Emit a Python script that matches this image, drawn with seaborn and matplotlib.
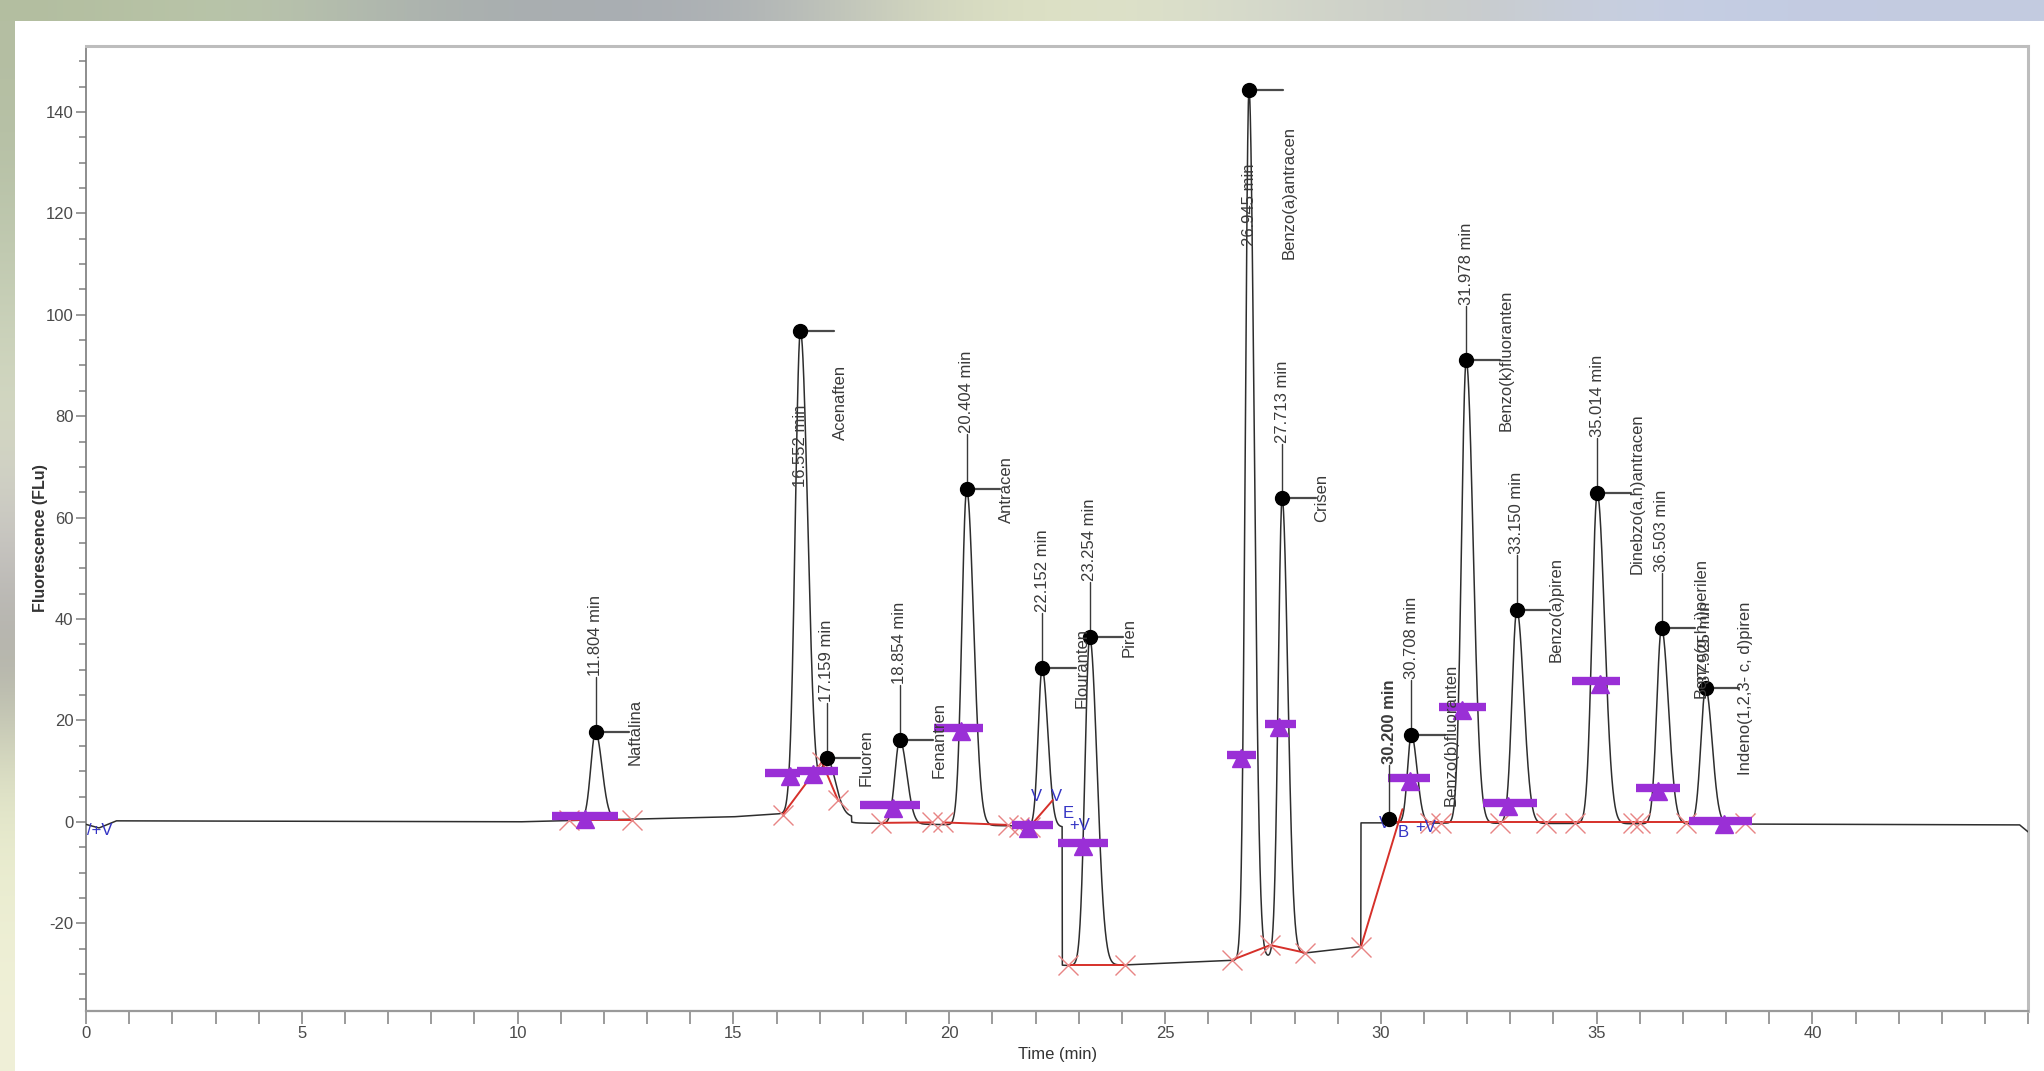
import numpy as np
import pandas as pd
import matplotlib
matplotlib.use("Agg")
import matplotlib.pyplot as plt
from matplotlib.patches import Rectangle
from matplotlib.ticker import MultipleLocator
import seaborn as sns

# ---- data ----
peak_rt = [11.804, 16.552, 17.159, 18.854, 20.404, 22.152, 23.254, 26.945,
           27.713, 30.200, 30.708, 31.978, 33.150, 35.014, 36.503, 37.525]
peak_top = [17.7, 96.8, 12.6, 16.2, 65.6, 30.3, 36.4, 144.4,
            63.8, 0.5, 17.2, 91.0, 41.8, 64.8, 38.2, 26.4]
peak_sd_left = [0.11, 0.12, 0.13, 0.11, 0.11, 0.09, 0.11, 0.085,
                0.09, 0.04, 0.09, 0.11, 0.11, 0.12, 0.11, 0.11]
peak_sd_right = [0.15, 0.17, 0.20, 0.16, 0.16, 0.13, 0.17, 0.12,
                 0.13, 0.04, 0.13, 0.16, 0.16, 0.17, 0.16, 0.15]
peak_name = ["Naftalina", "Acenaften", "Fluoren", "Fenantren", "Antracen",
             "Flouranten", "Piren", "Benzo(a)antracen", "Crisen", "",
             "Benzo(b)fluoranten", "Benzo(k)fluoranten", "Benzo(a)piren",
             "Dinebzo(a,h)antracen", "Benzo(g,h,i)perilen",
             "Indeno(1,2,3- c, d)piren"]

# detector baseline (with the two signal offsets)
bl_t = [0.0, 0.3, 0.7, 10.0, 15.0, 16.1, 17.74, 17.74, 21.5, 22.62, 22.62,
        24.1, 26.6, 28.3, 29.54, 29.54, 44.8, 45.0]
bl_y = [-0.5, -1.2, 0.2, 0.0, 1.0, 1.6, 1.0, -0.2, -0.8, -1.0, -28.3,
        -28.2, -27.3, -25.8, -24.6, -0.2, -0.6, -2.0]

# integration baselines (red) and their cut points
red_t = [[11.19, 12.64], [16.14, 17.05, 17.42], [18.41, 19.60],
         [19.85, 21.35], [21.61, 21.86, 22.40], [22.74, 24.08],
         [26.56, 27.44, 28.24], [29.54, 30.50], [30.30, 38.43]]
red_y = [[0.4, 0.4], [1.4, 11.8, 4.3], [-0.2, -0.1],
         [-0.1, -0.6], [-1.0, -1.0, 4.3], [-28.2, -28.2],
         [-27.2, -24.3, -25.8], [-24.6, 2.5], [0.0, 0.0]]
cut_t = [11.19, 12.64, 16.14, 17.05, 17.42, 18.41, 19.60, 19.85, 21.35,
         21.61, 21.86, 22.74, 24.08, 26.56, 27.44, 28.24, 29.54, 31.13,
         31.39, 32.75, 33.82, 34.49, 35.84, 36.00, 37.08, 38.43]
cut_y = [0.4, 0.4, 1.4, 11.8, 4.3, -0.2, -0.1, -0.1, -0.6,
         -1.0, -1.0, -28.2, -28.2, -27.2, -24.3, -25.8, -24.6, -0.2,
         -0.2, -0.2, -0.2, -0.2, -0.2, -0.2, -0.2, -0.2]

# purple event marks: centre, level and window
mark_t = [11.55, 16.31, 16.84, 18.69, 20.27, 21.82, 23.11, 26.76, 27.65,
          30.67, 31.87, 32.94, 35.07, 36.41, 37.96]
mark_y = [1.2, 9.7, 10.1, 3.4, 18.5, -0.6, -4.2, 13.2, 19.3,
          8.7, 22.7, 3.7, 27.8, 6.7, 0.2]
mark_lo = [10.80, 15.73, 16.47, 17.93, 19.64, 21.45, 22.53, 26.43, 27.31,
           30.16, 31.34, 32.36, 34.44, 35.90, 37.13]
mark_hi = [12.33, 16.54, 17.42, 19.32, 20.78, 22.40, 23.67, 27.10, 28.03,
           31.13, 32.43, 33.61, 35.53, 36.92, 38.59]

# blue valley/event codes
code_t = [0.02, 21.90, 22.35, 22.62, 22.78, 29.95, 30.40, 30.80]
code_y = [-0.3, 6.5, 6.5, 3.2, 0.8, 1.2, -0.6, 0.3]
code_txt = ["/+V", "V", "V", "E", "+V", "V", "B", "+V"]

# ---- layout of the peak annotations ----
rt_mode = ["above"] * len(peak_rt)
rt_mode[1] = "below"
rt_mode[7] = "below"
rt_mode[15] = "onpeak"
name_dy = [0.0] * len(peak_rt)
name_dy[1] = -14.0
name_dy[7] = -20.3

sns.set_style("ticks")
plt.rcParams["font.family"] = ["Liberation Sans", "DejaVu Sans"]
plt.rcParams["axes.unicode_minus"] = False
narrow = ["Liberation Sans Narrow", "Liberation Sans", "DejaVu Sans"]

fig = plt.figure(figsize=(20.44, 10.71), dpi=100)
fig.patch.set_facecolor("white")

# blurred photo backdrop around the white panel
bg = fig.add_axes([0, 0, 1, 1], zorder=-10)
bg.set_axis_off()
top_cols = np.array([[[179, 190, 160], [188, 200, 172], [170, 176, 174],
                      [168, 173, 178], [174, 178, 182], [216, 220, 192],
                      [224, 228, 200], [212, 216, 204], [200, 202, 198],
                      [200, 208, 228], [194, 203, 226], [196, 204, 224]]]) / 255
left_cols = np.array([[[180, 190, 162]], [[186, 196, 170]], [[200, 208, 184]],
                      [[214, 218, 196]], [[200, 196, 196]], [[170, 170, 162]],
                      [[226, 230, 200]], [[236, 238, 210]], [[240, 240, 216]]]) / 255
bg.imshow(top_cols, extent=(0, 2044, 21, 0), aspect="auto", interpolation="bicubic")
bg.imshow(left_cols, extent=(0, 15, 1071, 21), aspect="auto", interpolation="bicubic")
bg.add_patch(Rectangle((15, 21), 2029, 1050, facecolor="white", edgecolor="none"))
bg.set_xlim(0, 2044)
bg.set_ylim(1071, 0)

ax = fig.add_axes([0.0421, 0.0560, 0.9502, 0.9011])
ax.set_facecolor("white")

# ---- build the trace from baseline + peaks ----
t = np.linspace(0, 45, 9001)
signal = np.interp(t, bl_t, bl_y)
for rt, top, sl, sr in zip(peak_rt, peak_top, peak_sd_left, peak_sd_right):
    amp = top - np.interp(rt, bl_t, bl_y)
    sd = np.where(t < rt, sl, sr)
    signal = signal + amp * np.exp(-0.5 * ((t - rt) / sd) ** 2)
trace = pd.DataFrame({"time": t, "signal": signal})

sns.lineplot(data=trace, x="time", y="signal", ax=ax, color="#2e2e2e",
             linewidth=1.1, estimator=None, sort=False, zorder=3)

# integration baselines
for xs, ys in zip(red_t, red_y):
    ax.plot(xs, ys, color="#d6302a", linewidth=1.4, zorder=4)
ax.plot(cut_t, cut_y, linestyle="none", marker="x", markersize=15,
        markeredgewidth=1.0, color="#e88484", zorder=4)

# purple event marks
purple = "#9a2fd6"
ax.hlines(mark_y, mark_lo, mark_hi, color=purple, linewidth=6, zorder=5)
ax.plot(mark_t, np.array(mark_y) - 0.6, linestyle="none", marker="^",
        markersize=13, color=purple, zorder=5)

# blue codes
for x, y, s in zip(code_t, code_y, code_txt):
    ax.text(x, y, s, color="#3434c4", fontsize=12, ha="left", va="top", zorder=6)

# peak apex dots and annotations
ann_col = "#3a3a3a"
for i, (rt, top, name) in enumerate(zip(peak_rt, peak_top, peak_name)):
    ax.plot(rt, top, marker="o", markersize=10, color="black", zorder=7)
    label = f"{rt:.3f} min"
    weight = "bold" if i == 9 else "normal"
    if rt_mode[i] == "above":
        ax.plot([rt, rt], [top, top + 10.8], color=ann_col, linewidth=1.0, zorder=6)
        ax.text(rt, top + 11.0, label, rotation=90, ha="center", va="bottom",
                fontsize=12, color=ann_col, fontweight=weight, zorder=8)
    elif rt_mode[i] == "below":
        ax.text(rt, top - 14.6, label, rotation=90, ha="center", va="top",
                fontsize=12, color=ann_col, zorder=8)
    else:
        ax.text(rt, top + 0.8, label, rotation=90, ha="center", va="bottom",
                fontsize=12, color=ann_col, zorder=8)
    if name:
        ax.plot([rt, rt + 0.78], [top, top], color="#4a4a4a", linewidth=1.6, zorder=6)
        ax.text(rt + 0.92, top + name_dy[i], name, rotation=90, ha="center",
                va="center", fontsize=12, color=ann_col, zorder=8)

# ---- axes ----
ax.set_xlim(0, 45)
ax.set_ylim(-37.3, 153)
ax.xaxis.set_major_locator(MultipleLocator(5))
ax.xaxis.set_minor_locator(MultipleLocator(1))
ax.yaxis.set_major_locator(MultipleLocator(20))
ax.yaxis.set_minor_locator(MultipleLocator(5))
ax.set_xticks([0, 5, 10, 15, 20, 25, 30, 35, 40])
ax.set_yticks([-20, 0, 20, 40, 60, 80, 100, 120, 140])

ax.tick_params(axis="x", which="both", direction="out", length=9, width=1.2,
               color="#8a8a8a", pad=2, labelsize=12, labelcolor="#4a4a4a")
ax.tick_params(axis="y", which="major", direction="out", length=7, width=1.2,
               color="#8a8a8a", pad=2, labelsize=12, labelcolor="#4a4a4a")
ax.tick_params(axis="y", which="minor", direction="out", length=5, width=1.2,
               color="#8a8a8a")
for lab in ax.get_xticklabels() + ax.get_yticklabels():
    lab.set_family(narrow)

for side in ["top", "right"]:
    ax.spines[side].set_visible(True)
    ax.spines[side].set_color("#bdbdbd")
    ax.spines[side].set_linewidth(2.2)
ax.spines["left"].set_color("#7a7a7a")
ax.spines["left"].set_linewidth(1.2)
ax.spines["bottom"].set_color("#9a9a9a")
ax.spines["bottom"].set_linewidth(1.6)

ax.set_xlabel("Time (min)", fontsize=12, color="#333333", family=narrow)
ax.xaxis.set_label_coords(0.5, -0.037)
ax.set_ylabel("Fluorescence (FLu)", fontsize=11.5, fontweight="bold", color="#333333")
ax.yaxis.set_label_coords(-0.0196, 0.49)

fig.savefig("out.png", dpi=100)
plt.close(fig)
